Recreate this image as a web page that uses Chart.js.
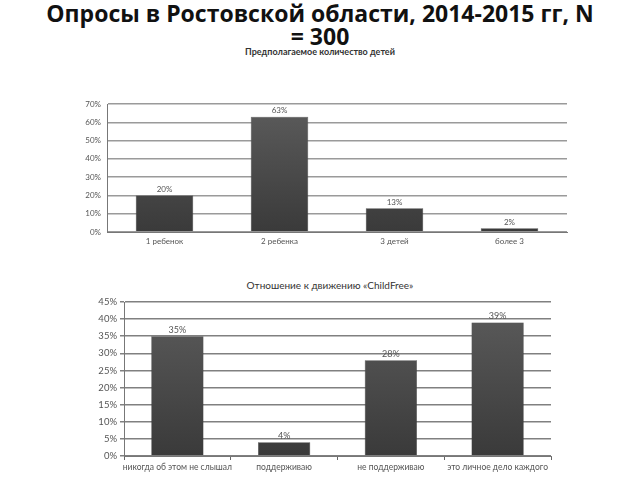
<!DOCTYPE html>
<html>
<head>
<meta charset="utf-8">
<script src="https://cdn.jsdelivr.net/npm/chart.js@4.4.0/dist/chart.umd.min.js"></script>
<style>
  body { margin: 0; background: #fff; width: 640px; height: 480px; overflow: hidden; font-family: Lato, "Open Sans", sans-serif; }
  .abs { position: absolute; }
  #title { left: 0; top: 2px; width: 640px; text-align: center; font-family: "Open Sans", sans-serif; font-weight: bold; font-size: 23px; line-height: 23px; color: #111; }
  #t1 { left: 0; top: 46px; width: 640px; text-align: center; font-weight: bold; font-size: 9px; color: #333; }
  #t2 { left: 10px; top: 279px; width: 640px; text-align: center; font-size: 10px; color: #333; }
  #c1 { left: 0; top: 45px; width: 640px; height: 215px; }
  #c2 { left: 0; top: 290px; width: 640px; height: 190px; }
</style>
</head>
<body>
<div id="title" class="abs">Опросы в Ростовской области, 2014-2015 гг, N<br>= 300</div>
<div id="t1" class="abs">Предполагаемое количество детей</div>
<div id="t2" class="abs">Отношение к движению «ChildFree»</div>
<div id="c1" class="abs"><canvas id="chart1"></canvas></div>
<div id="c2" class="abs"><canvas id="chart2"></canvas></div>
<script>
// данные первого графика
const kidsLabels = ["1 ребенок", "2 ребенка", "3 детей", "более 3"];
const kidsValues = [20, 63, 13, 2];
const kidsTicks = [0, 10, 20, 30, 40, 50, 60, 70];

// данные второго графика
const cfLabels = ["никогда об этом не слышал", "поддерживаю", "не поддерживаю", "это личное дело каждого"];
const cfValues = [35, 4, 28, 39];
const cfTicks = [0, 5, 10, 15, 20, 25, 30, 35, 40, 45];

// градиент столбцов
function barFill(ctx) {
    const area = ctx.chart.chartArea;
    if (!area) return "#4a4a4a";
    const g = ctx.chart.ctx.createLinearGradient(0, area.top, 0, area.bottom);
    g.addColorStop(0, "#5c5c5c");
    g.addColorStop(1, "#3a3a3a");
    return g;
}

// подписи значений над столбцами
const valueLabels = {
    id: "valueLabels",
    afterDatasetsDraw(chart, args, opts) {
        const ctx = chart.ctx;
        const meta = chart.getDatasetMeta(0);
        ctx.save();
        ctx.font = opts.size + "px Lato, sans-serif";
        ctx.fillStyle = "#555";
        ctx.textAlign = "center";
        ctx.textBaseline = "bottom";
        meta.data.forEach((bar, i) => {
            ctx.fillText(chart.data.datasets[0].data[i] + "%", bar.x, bar.y - 2);
        });
        ctx.restore();
    },
};

function makeChart(id, labels, values, ticks, cfg) {
    return new Chart(document.getElementById(id), {
        type: "bar",
        data: {
            labels,
            datasets: [{
                data: values,
                backgroundColor: barFill,
                borderColor: "#333",
                borderWidth: 0.5,
                barPercentage: cfg.barPct,
                categoryPercentage: 1,
            }],
        },
        options: {
            responsive: true,
            maintainAspectRatio: false,
            animation: false,
            layout: { padding: cfg.padding },
            plugins: {
                legend: { display: false },
                tooltip: { enabled: false },
                valueLabels: { size: cfg.valueSize },
            },
            scales: {
                x: {
                    afterFit: (s) => { s.height = 20; },
                    grid: {
                        offset: true,
                        drawOnChartArea: false,
                        drawTicks: cfg.xTicks,
                        tickLength: 4,
                        color: "#666",
                    },
                    border: { color: "#777", width: 1 },
                    ticks: {
                        color: "#555",
                        font: { size: cfg.xTickSize, family: "Lato" },
                        padding: cfg.xTicks ? 2 : 5,
                        maxRotation: 0,
                        minRotation: 0,
                        autoSkip: false,
                    },
                },
                y: {
                    min: 0,
                    max: ticks[ticks.length - 1],
                    afterFit: (s) => { s.width = 40; },
                    afterBuildTicks: (s) => { s.ticks = ticks.map((v) => ({ value: v })); },
                    grid: {
                        color: cfg.gridColor,
                        lineWidth: 1.5,
                        drawTicks: cfg.yTicks,
                        tickLength: 4,
                    },
                    border: { color: "#777", width: 1 },
                    ticks: {
                        color: "#555",
                        padding: cfg.yTicks ? 3 : 6,
                        font: { size: cfg.tickSize, family: "Lato" },
                        callback: (v) => v + "%",
                    },
                },
            },
        },
        plugins: [valueLabels],
    });
}

makeChart("chart1", kidsLabels, kidsValues, kidsTicks, {
    padding: { left: 67, right: 73, top: 59, bottom: 8 },
    barPct: 0.5,
    valueSize: 8,
    tickSize: 8,
    xTickSize: 8,
    gridColor: "#9a9a9a",
    xTicks: false,
    yTicks: false,
});

makeChart("chart2", cfLabels, cfValues, cfTicks, {
    padding: { left: 84, right: 89, top: 12, bottom: 4 },
    barPct: 0.49,
    valueSize: 9,
    tickSize: 9.5,
    xTickSize: 8.5,
    gridColor: "#808080",
    xTicks: true,
    yTicks: true,
});
</script>
</body>
</html>
